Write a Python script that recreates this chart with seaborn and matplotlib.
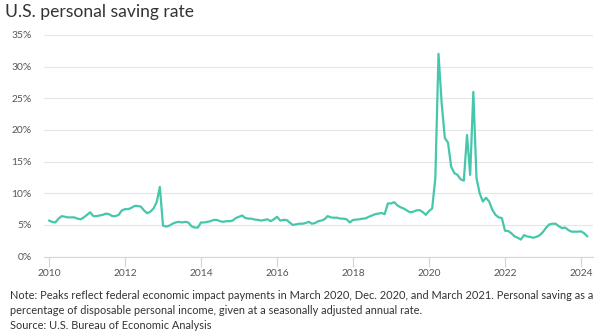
import numpy as np
import pandas as pd
import matplotlib
matplotlib.use("Agg")
import matplotlib.pyplot as plt
import seaborn as sns

# Monthly U.S. personal saving rate (%), Jan 2010 - Mar 2024
rate_2010 = [5.7, 5.5, 5.4, 6.0, 6.4, 6.3, 6.2, 6.2, 6.2, 6.0, 5.9, 6.2]
rate_2011 = [6.6, 7.0, 6.4, 6.4, 6.5, 6.6, 6.8, 6.7, 6.4, 6.4, 6.6, 7.3]
rate_2012 = [7.5, 7.5, 7.7, 8.0, 8.0, 7.9, 7.3, 6.85, 7.1, 7.6, 8.6, 11.0]
rate_2013 = [4.9, 4.75, 4.9, 5.2, 5.4, 5.5, 5.4, 5.5, 5.4, 4.8, 4.6, 4.6]
rate_2014 = [5.4, 5.4, 5.5, 5.6, 5.8, 5.8, 5.6, 5.5, 5.6, 5.6, 5.7, 6.1]
rate_2015 = [6.3, 6.5, 6.1, 6.0, 6.0, 5.85, 5.8, 5.7, 5.8, 5.9, 5.6, 5.9]
rate_2016 = [6.3, 5.7, 5.8, 5.8, 5.4, 5.0, 5.1, 5.2, 5.2, 5.3, 5.5, 5.2]
rate_2017 = [5.3, 5.6, 5.7, 5.9, 6.4, 6.2, 6.15, 6.15, 6.0, 6.0, 5.9, 5.4]
rate_2018 = [5.8, 5.85, 5.9, 6.0, 6.05, 6.3, 6.5, 6.7, 6.8, 6.9, 6.7, 8.4]
rate_2019 = [8.4, 8.6, 8.1, 7.8, 7.6, 7.3, 7.0, 7.1, 7.3, 7.35, 7.05, 6.6]
rate_2020 = [7.2, 7.6, 12.4, 32.0, 24.2, 18.7, 18.0, 14.2, 13.2, 12.9, 12.2, 12.0]
rate_2021 = [19.2, 12.9, 26.0, 12.4, 10.0, 8.7, 9.3, 8.7, 7.4, 6.6, 6.2, 6.1]
rate_2022 = [4.1, 4.05, 3.7, 3.2, 3.0, 2.7, 3.4, 3.2, 3.1, 3.0, 3.15, 3.4]
rate_2023 = [3.9, 4.6, 5.1, 5.2, 5.2, 4.8, 4.5, 4.6, 4.2, 3.95, 3.95, 3.95]
rate_2024 = [4.0, 3.7, 3.2]

start_year = 2010
x_ticks = [2010, 2012, 2014, 2016, 2018, 2020, 2022, 2024]
y_ticks = [0, 5, 10, 15, 20, 25, 30, 35]
title = "U.S. personal saving rate"
note = ("Note: Peaks reflect federal economic impact payments in March 2020, Dec. 2020, and March 2021. "
        "Personal saving as a\npercentage of disposable personal income, given at a seasonally adjusted annual rate.\n"
        "Source: U.S. Bureau of Economic Analysis")

rates = (rate_2010 + rate_2011 + rate_2012 + rate_2013 + rate_2014 + rate_2015 + rate_2016 +
         rate_2017 + rate_2018 + rate_2019 + rate_2020 + rate_2021 + rate_2022 + rate_2023 + rate_2024)
df = pd.DataFrame({"year": start_year + np.arange(len(rates)) / 12.0, "rate": rates})

sns.set_theme(style="white")
plt.rcParams["font.family"] = ["Lato", "DejaVu Sans"]

fig = plt.figure(figsize=(6.10, 3.36), dpi=100)
ax = fig.add_axes([44 / 610, 79.3 / 336, 549 / 610, 221.9 / 336])

sns.lineplot(data=df, x="year", y="rate", ax=ax, color="#46c7ab", linewidth=1.6)

ax.set_xlim(2010 - 5 / 38, 2010 + 544 / 38)
ax.set_ylim(0, 35)
ax.set_yticks(y_ticks)
ax.set_yticklabels([f"{v}%" for v in y_ticks])
ax.set_xticks(x_ticks)
ax.set_xticklabels([str(v) for v in x_ticks])
ax.set_xlabel("")
ax.set_ylabel("")

ax.grid(axis="y", color="#e6e6e6", linewidth=0.8)
ax.grid(axis="x", visible=False)
for s in ["top", "right", "left"]:
    ax.spines[s].set_visible(False)
ax.spines["bottom"].set_color("#ccd6eb")
ax.spines["bottom"].set_linewidth(0.8)

ax.tick_params(axis="y", length=0, labelsize=7.4, labelcolor="#555555", pad=9)
ax.tick_params(axis="x", direction="out", length=7, width=0.8, color="#ccd6eb",
               labelsize=7.4, labelcolor="#555555", pad=2, bottom=True)

fig.text(5 / 610, 1 - 12 / 336, title, fontsize=12.6, color="#333333", va="center", ha="left")
fig.text(10 / 610, 1 - 290 / 336, note, fontsize=7.9, color="#333333", va="top", ha="left",
         linespacing=1.42)

fig.savefig("out.png", dpi=100)
